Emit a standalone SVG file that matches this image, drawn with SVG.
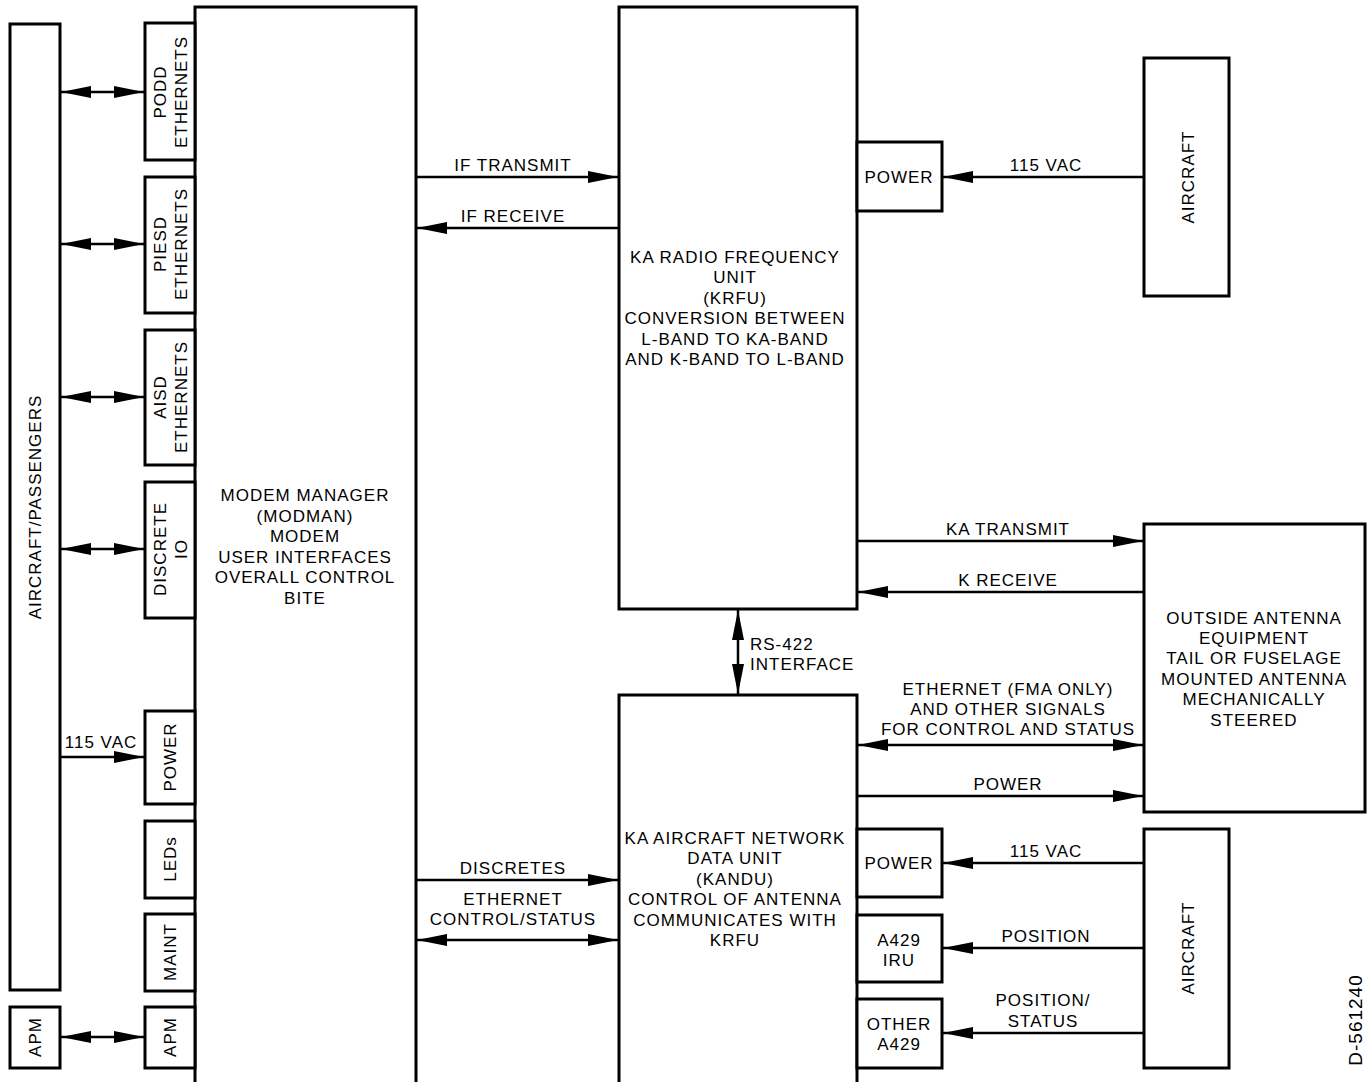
<svg xmlns="http://www.w3.org/2000/svg" width="1367" height="1082" viewBox="0 0 1367 1082">
<style>
.b{fill:#fff;stroke:#000;stroke-width:3}
.l{stroke:#000;stroke-width:2.5;fill:none}
text{font-family:"Liberation Sans",Arial,sans-serif;font-size:17px;letter-spacing:1px;fill:#000}
.c{text-anchor:middle}
</style>
<defs>
<marker id="ah" viewBox="0 0 30 12" refX="30" refY="6" markerWidth="30" markerHeight="12" markerUnits="userSpaceOnUse" orient="auto-start-reverse"><path d="M0,0 L30,6 L0,12 Z" fill="#000"/></marker>
</defs>
<rect width="1367" height="1082" fill="#fff"/>
<g id="aircraft-passengers"><rect class="b" x="10" y="24" width="50" height="966"/><text class="c" transform="translate(41,507) rotate(-90)">AIRCRAFT/PASSENGERS</text></g>
<g id="apm-left"><rect class="b" x="10" y="1007" width="50" height="61"/><text class="c" transform="translate(41,1037) rotate(-90)">APM</text></g>
<g id="modman"><path class="b" d="M195,1084 V7 H416 V1084"/>
<text class="c" x="305" y="501">MODEM MANAGER</text><text class="c" x="305" y="522">(MODMAN)</text><text class="c" x="305" y="542">MODEM</text><text class="c" x="305" y="563">USER INTERFACES</text><text class="c" x="305" y="583">OVERALL CONTROL</text><text class="c" x="305" y="604">BITE</text></g>
<g id="podd"><rect class="b" x="145" y="23" width="50" height="137"/><text class="c" transform="translate(166,92) rotate(-90)">PODD</text><text class="c" transform="translate(187,92) rotate(-90)">ETHERNETS</text></g>
<g id="piesd"><rect class="b" x="145" y="177" width="50" height="136"/><text class="c" transform="translate(166,244) rotate(-90)">PIESD</text><text class="c" transform="translate(187,244) rotate(-90)">ETHERNETS</text></g>
<g id="aisd"><rect class="b" x="145" y="330" width="50" height="135"/><text class="c" transform="translate(166,397) rotate(-90)">AISD</text><text class="c" transform="translate(187,397) rotate(-90)">ETHERNETS</text></g>
<g id="discrete-io"><rect class="b" x="145" y="482" width="50" height="136"/><text class="c" transform="translate(166,549) rotate(-90)">DISCRETE</text><text class="c" transform="translate(187,549) rotate(-90)">IO</text></g>
<g id="power-left"><rect class="b" x="145" y="711" width="50" height="93"/><text class="c" transform="translate(176,757) rotate(-90)">POWER</text></g>
<g id="leds"><rect class="b" x="145" y="821" width="50" height="77"/><text class="c" transform="translate(176,859) rotate(-90)">LEDs</text></g>
<g id="maint"><rect class="b" x="145" y="914" width="50" height="77"/><text class="c" transform="translate(176,952) rotate(-90)">MAINT</text></g>
<g id="apm-right"><rect class="b" x="145" y="1007" width="50" height="61"/><text class="c" transform="translate(176,1037) rotate(-90)">APM</text></g>
<g id="krfu"><rect class="b" x="619" y="7" width="238" height="602"/>
<text class="c" x="735" y="263">KA RADIO FREQUENCY</text><text class="c" x="735" y="283">UNIT</text><text class="c" x="735" y="304">(KRFU)</text><text class="c" x="735" y="324">CONVERSION BETWEEN</text><text class="c" x="735" y="345">L-BAND TO KA-BAND</text><text class="c" x="735" y="365">AND K-BAND TO L-BAND</text></g>
<g id="krfu-power"><rect class="b" x="857" y="142" width="85" height="69"/><text class="c" x="899" y="183">POWER</text></g>
<g id="aircraft-top"><rect class="b" x="1144" y="58" width="85" height="238"/><text class="c" transform="translate(1194,177) rotate(-90)">AIRCRAFT</text></g>
<g id="outside-antenna"><rect class="b" x="1144" y="524" width="221" height="288"/>
<text class="c" x="1254" y="624">OUTSIDE ANTENNA</text><text class="c" x="1254" y="644">EQUIPMENT</text><text class="c" x="1254" y="664">TAIL OR FUSELAGE</text><text class="c" x="1254" y="685">MOUNTED ANTENNA</text><text class="c" x="1254" y="705">MECHANICALLY</text><text class="c" x="1254" y="726">STEERED</text></g>
<g id="kandu"><path class="b" d="M619,1084 V695 H857 V1084"/>
<text class="c" x="735" y="844">KA AIRCRAFT NETWORK</text><text class="c" x="735" y="864">DATA UNIT</text><text class="c" x="735" y="885">(KANDU)</text><text class="c" x="735" y="905">CONTROL OF ANTENNA</text><text class="c" x="735" y="926">COMMUNICATES WITH</text><text class="c" x="735" y="946">KRFU</text></g>
<g id="kandu-power"><rect class="b" x="857" y="829" width="85" height="68"/><text class="c" x="899" y="869">POWER</text></g>
<g id="a429-iru"><rect class="b" x="857" y="915" width="85" height="67"/><text class="c" x="899" y="946">A429</text><text class="c" x="899" y="966">IRU</text></g>
<g id="other-a429"><rect class="b" x="857" y="999" width="85" height="69"/><text class="c" x="899" y="1030">OTHER</text><text class="c" x="899" y="1050">A429</text></g>
<g id="aircraft-bottom"><rect class="b" x="1144" y="829" width="85" height="239"/><text class="c" transform="translate(1194,948) rotate(-90)">AIRCRAFT</text></g>
<g id="connectors">
<line class="l" x1="61" y1="92" x2="144" y2="92" marker-start="url(#ah)" marker-end="url(#ah)"/>
<line class="l" x1="61" y1="244" x2="144" y2="244" marker-start="url(#ah)" marker-end="url(#ah)"/>
<line class="l" x1="61" y1="397" x2="144" y2="397" marker-start="url(#ah)" marker-end="url(#ah)"/>
<line class="l" x1="61" y1="549" x2="144" y2="549" marker-start="url(#ah)" marker-end="url(#ah)"/>
<line class="l" x1="61" y1="757" x2="144" y2="757" marker-end="url(#ah)"/>
<text class="c" x="101" y="748">115 VAC</text>
<line class="l" x1="61" y1="1037" x2="144" y2="1037" marker-start="url(#ah)" marker-end="url(#ah)"/>
<line class="l" x1="417" y1="177" x2="618" y2="177" marker-end="url(#ah)"/>
<text class="c" x="513" y="171">IF TRANSMIT</text>
<line class="l" x1="618" y1="228" x2="417" y2="228" marker-end="url(#ah)"/>
<text class="c" x="513" y="222">IF RECEIVE</text>
<line class="l" x1="1143" y1="177" x2="943" y2="177" marker-end="url(#ah)"/>
<text class="c" x="1046" y="171">115 VAC</text>
<line class="l" x1="858" y1="541" x2="1143" y2="541" marker-end="url(#ah)"/>
<text class="c" x="1008" y="535">KA TRANSMIT</text>
<line class="l" x1="1143" y1="592" x2="858" y2="592" marker-end="url(#ah)"/>
<text class="c" x="1008" y="586">K RECEIVE</text>
<line class="l" x1="738" y1="610" x2="738" y2="694" marker-start="url(#ah)" marker-end="url(#ah)"/>
<text x="750" y="650">RS-422</text>
<text x="750" y="670">INTERFACE</text>
<line class="l" x1="858" y1="745" x2="1143" y2="745" marker-start="url(#ah)" marker-end="url(#ah)"/>
<text class="c" x="1008" y="695">ETHERNET (FMA ONLY)</text>
<text class="c" x="1008" y="715">AND OTHER SIGNALS</text>
<text class="c" x="1008" y="735">FOR CONTROL AND STATUS</text>
<line class="l" x1="858" y1="796" x2="1143" y2="796" marker-end="url(#ah)"/>
<text class="c" x="1008" y="790">POWER</text>
<line class="l" x1="1143" y1="863" x2="943" y2="863" marker-end="url(#ah)"/>
<text class="c" x="1046" y="857">115 VAC</text>
<line class="l" x1="1143" y1="948" x2="943" y2="948" marker-end="url(#ah)"/>
<text class="c" x="1046" y="942">POSITION</text>
<line class="l" x1="1143" y1="1033" x2="943" y2="1033" marker-end="url(#ah)"/>
<text class="c" x="1043" y="1006">POSITION/</text>
<text class="c" x="1043" y="1027">STATUS</text>
<line class="l" x1="417" y1="880" x2="618" y2="880" marker-end="url(#ah)"/>
<text class="c" x="513" y="874">DISCRETES</text>
<line class="l" x1="417" y1="940" x2="618" y2="940" marker-start="url(#ah)" marker-end="url(#ah)"/>
<text class="c" x="513" y="905">ETHERNET</text>
<text class="c" x="513" y="925">CONTROL/STATUS</text>
</g>
<text class="c" style="font-size:19px" transform="translate(1362,1020) rotate(-90)">D-561240</text>
</svg>
